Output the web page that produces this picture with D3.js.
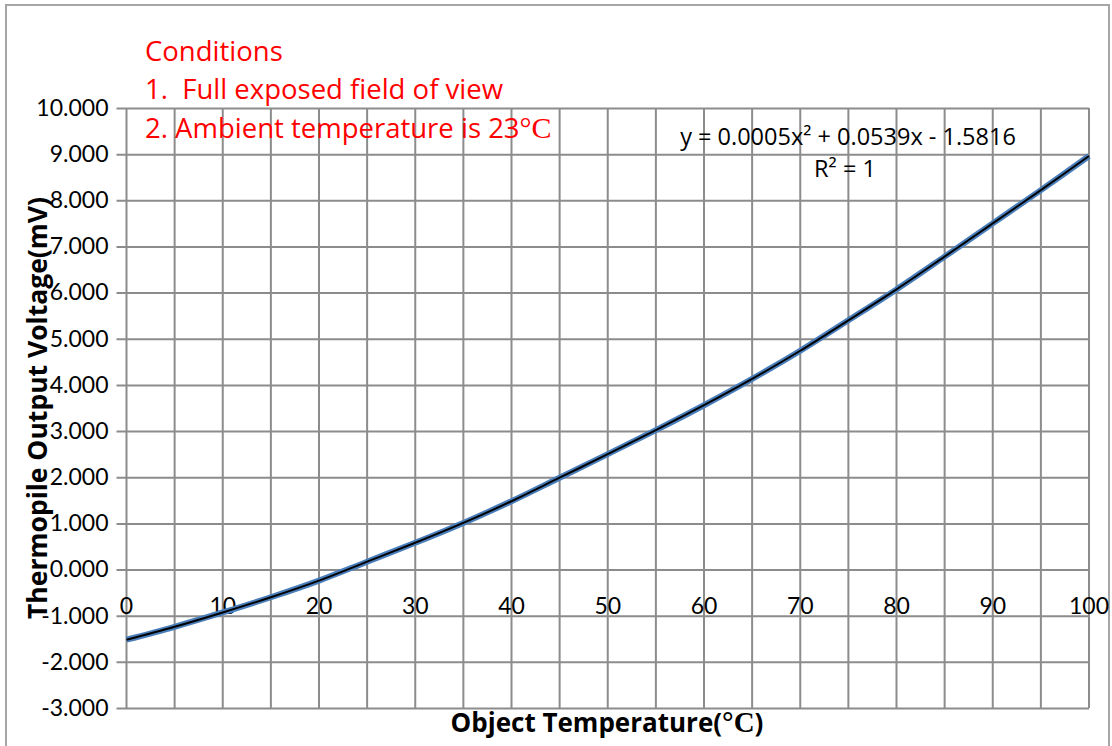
<!DOCTYPE html>
<html>
<head>
<meta charset="utf-8">
<script src="https://cdn.jsdelivr.net/npm/d3@7"></script>
<style>
  html, body { margin: 0; padding: 0; background: #fff; }
  svg { display: block; }
  text { white-space: pre; }
</style>
</head>
<body>
<svg class="svg" width="1112" height="746"></svg>
<script>
// data
const temps = [0, 5, 10, 15, 20, 25, 30, 35, 40, 45, 50, 55, 60, 65, 70, 75, 80, 85, 90, 95, 100];
const voltage = [-1.52, -1.24, -0.93, -0.60, -0.24, 0.17, 0.58, 1.01, 1.48, 1.99, 2.50, 3.02, 3.56, 4.13, 4.74, 5.40, 6.07, 6.78, 7.50, 8.22, 8.96];

const yTicks = [-3, -2, -1, 0, 1, 2, 3, 4, 5, 6, 7, 8, 9, 10];
const xTicks = [0, 10, 20, 30, 40, 50, 60, 70, 80, 90, 100];
const xGrid = [0, 5, 10, 15, 20, 25, 30, 35, 40, 45, 50, 55, 60, 65, 70, 75, 80, 85, 90, 95, 100];

const conditions = ["Conditions", "1.  Full exposed field of view", "2. Ambient temperature is 23"];
const trendText = ["y = 0.0005x² + 0.0539x - 1.5816", "R² = 1"];

const margin = { top: 108, left: 126.5, right: 23, bottom: 38 };
const W = 1112, H = 746;
const gridColor = '#8c8c8c';
const sans = '"Open Sans", sans-serif';
const serif = '"Liberation Serif", "Times New Roman", serif';
const fmt = d => d3.format('.3f')(d).replace('−', '-');

const svg = d3.select('.svg');

// outer border
svg.append('rect')
    .attr('x', 6).attr('y', 5)
    .attr('width', W - 9).attr('height', H + 10)
    .attr('fill', 'none')
    .attr('stroke', '#a6a6a6')
    .attr('stroke-width', 2);

const x = d3.scaleLinear().domain([0, 100]).range([margin.left, W - margin.right]);
const y = d3.scaleLinear().domain([-3, 10]).range([H - margin.bottom, margin.top]);

// horizontal grid + y axis labels
const yAxis = d3.axisLeft(y)
    .tickValues(yTicks)
    .tickSize(-(x(100) - x(0)))
    .tickPadding(18)
    .tickFormat(fmt);

const gy = svg.append('g')
    .attr('transform', `translate(${x(0)},0)`)
    .call(yAxis);
gy.select('.domain').remove();
gy.selectAll('.tick line')
    .attr('x1', -10)
    .attr('stroke', gridColor)
    .attr('stroke-width', 2);
gy.selectAll('.tick text')
    .attr('x', -18)
    .attr('fill', '#000')
    .style('font-size', '23px')
    .style('font-family', 'Lato, sans-serif');

// vertical grid
svg.append('g').selectAll('line').data(xGrid).join('line')
    .attr('x1', d => x(d)).attr('x2', d => x(d))
    .attr('y1', y(10)).attr('y2', y(-3))
    .attr('stroke', gridColor)
    .attr('stroke-width', 2);

// x axis labels (sit below the zero line)
svg.append('g').selectAll('text').data(xTicks).join('text')
    .attr('x', d => x(d))
    .attr('y', y(0) + 35)
    .attr('text-anchor', 'middle')
    .attr('dominant-baseline', 'central')
    .attr('fill', '#000')
    .style('font-size', '23px')
    .style('font-family', 'Lato, sans-serif')
    .text(d => d);

// series + trendline
const line = d3.line()
    .x((d, i) => x(temps[i]))
    .y(d => y(d))
    .curve(d3.curveCatmullRom);

svg.append('path')
    .datum(voltage)
    .attr('d', line)
    .attr('fill', 'none')
    .attr('stroke', '#4a7ebb')
    .attr('stroke-width', 6);

svg.append('path')
    .datum(voltage)
    .attr('d', line)
    .attr('fill', 'none')
    .attr('stroke', '#000')
    .attr('stroke-width', 2);

// conditions note
svg.append('g').selectAll('text').data(conditions).join('text')
    .attr('x', 145)
    .attr('y', (d, i) => 61 + i * 38.3)
    .attr('fill', '#ff0000')
    .style('font-size', '27.5px')
    .style('font-family', sans)
    .text(d => d)
    .filter((d, i) => i === 2)
    .append('tspan')
    .style('font-family', serif)
    .style('font-size', '30px')
    .text('°C');

// trendline equation
svg.append('g').selectAll('text').data(trendText).join('text')
    .attr('x', (d, i) => i === 0 ? 848 : 845)
    .attr('y', (d, i) => 145 + i * 32)
    .attr('text-anchor', 'middle')
    .attr('fill', '#000')
    .style('font-size', '23.5px')
    .style('font-family', sans)
    .text(d => d);

// axis titles
svg.append('text')
    .attr('transform', `translate(47,${(y(10) + y(-3)) / 2}) rotate(-90)`)
    .attr('text-anchor', 'middle')
    .attr('fill', '#000')
    .style('font-size', '26.5px')
    .style('font-weight', 'bold')
    .style('font-family', sans)
    .text('Thermopile Output Voltage(mV)');

const xt = svg.append('text')
    .attr('x', 607)
    .attr('y', 732)
    .attr('text-anchor', 'middle')
    .attr('fill', '#000')
    .style('font-size', '26px')
    .style('font-weight', 'bold')
    .style('font-family', sans);
xt.append('tspan').text('Object Temperature(');
xt.append('tspan').style('font-family', serif).style('font-size', '29px').text('°C');
xt.append('tspan').text(')');
</script>
</body>
</html>
